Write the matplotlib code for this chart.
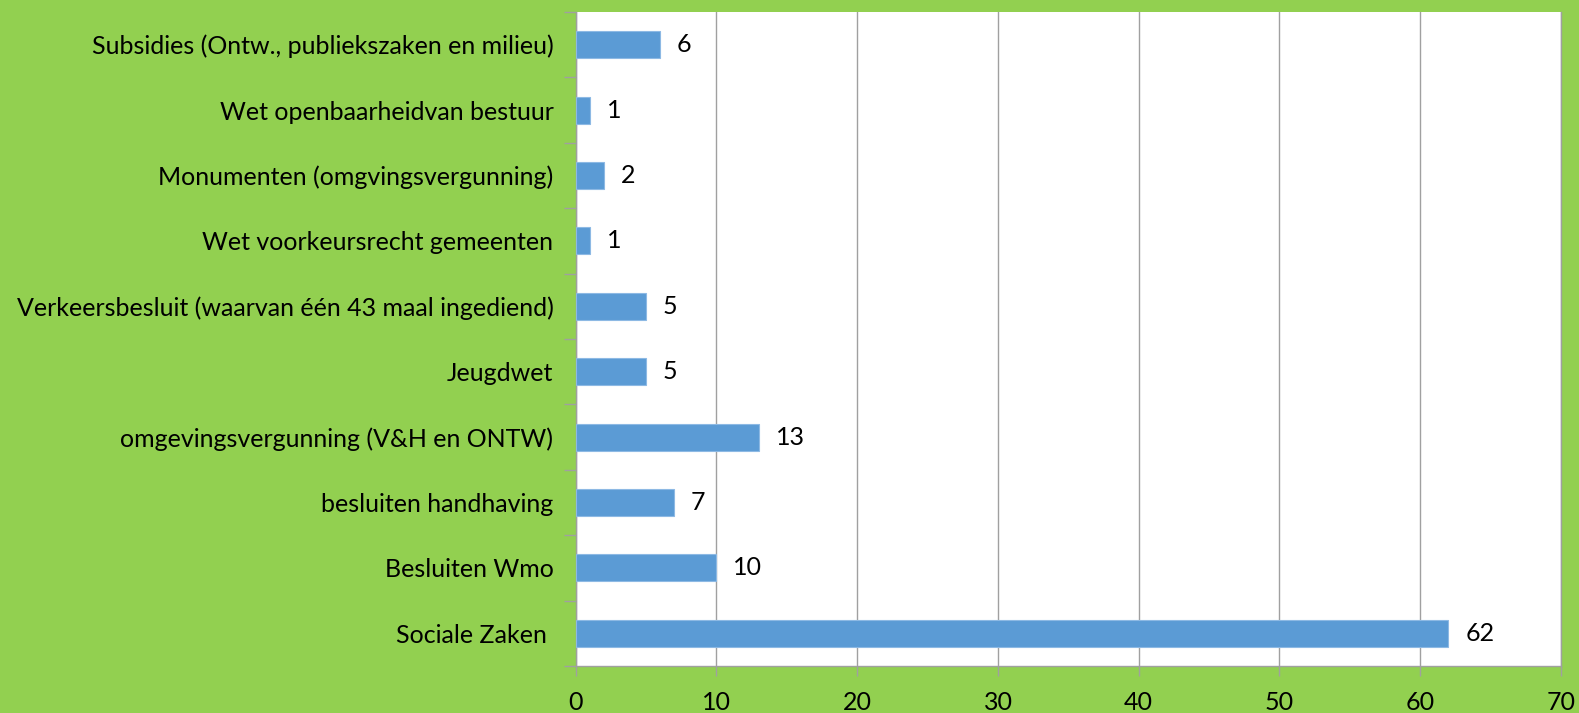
import matplotlib
matplotlib.use("Agg")
import matplotlib.pyplot as plt

categories = [
    "Sociale Zaken ",
    "Besluiten Wmo",
    "besluiten handhaving",
    "omgevingsvergunning (V&H en ONTW)",
    "Jeugdwet",
    "Verkeersbesluit (waarvan één 43 maal ingediend)",
    "Wet voorkeursrecht gemeenten",
    "Monumenten (omgvingsvergunning)",
    "Wet openbaarheidvan bestuur",
    "Subsidies (Ontw., publiekszaken en milieu)",
]
values = [62, 10, 7, 13, 5, 5, 1, 2, 1, 6]
xticks = [0, 10, 20, 30, 40, 50, 60, 70]

W, H = 1579, 713
fig = plt.figure(figsize=(W / 100, H / 100), dpi=100)
fig.patch.set_facecolor("#92D050")
ax = fig.add_axes([575.7 / W, 1 - 666 / H, (1561 - 575.7) / W, (666 - 12) / H])
ax.set_facecolor("white")

font = "Lato"
fs = 18
grid_c = "#A0A0A0"

y = range(len(categories))
ax.barh(y, values, height=0.41, color="#5B9BD5", edgecolor="#8DB9E4", linewidth=0.8, zorder=3)
for yi, v in zip(y, values):
    ax.text(v + 1.2, yi, str(v), va="center", ha="left", fontsize=fs, family=font, color="black", zorder=4)

ax.set_xlim(0, 70)
ax.set_ylim(-0.5, len(categories) - 0.5)
ax.set_xticks(xticks)
ax.set_xticklabels([str(t) for t in xticks], fontsize=fs, family=font)
ax.set_yticks([i - 0.5 for i in range(len(categories) + 1)], minor=False)
ax.set_yticklabels([])
ax.set_yticks(list(y), minor=True)
ax.set_yticklabels(categories, minor=True, fontsize=fs, family=font)
ax.tick_params(axis="y", which="minor", length=0, pad=16)
ax.tick_params(axis="y", which="major", length=9, color=grid_c, width=1)
ax.tick_params(axis="x", length=7, color=grid_c, width=1, pad=11)
ax.grid(axis="x", color=grid_c, linewidth=1, zorder=0)
for s in ["top"]:
    ax.spines[s].set_visible(False)
for s in ["left", "bottom", "right"]:
    ax.spines[s].set_color(grid_c)
    ax.spines[s].set_linewidth(1)

fig.savefig("out.png", dpi=100, facecolor=fig.get_facecolor())
